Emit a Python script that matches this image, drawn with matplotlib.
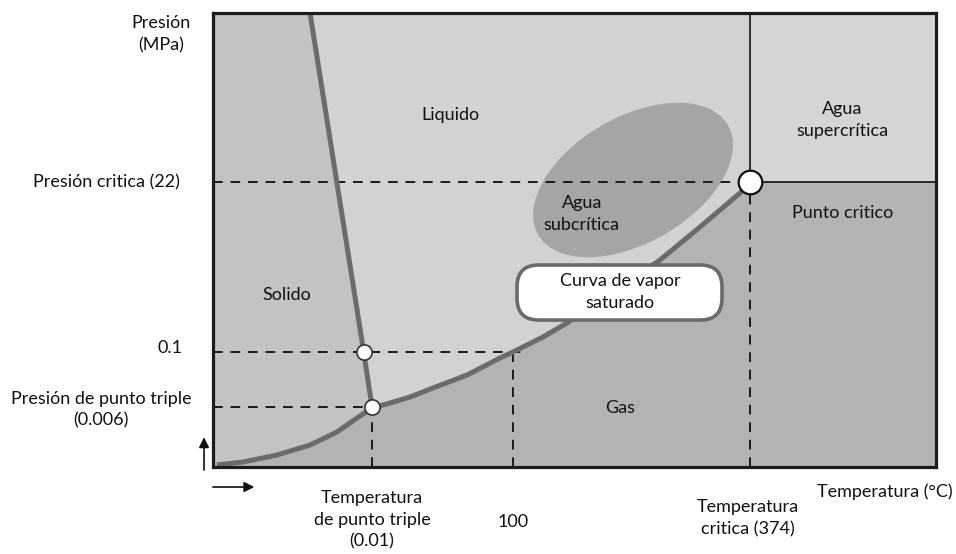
import matplotlib
matplotlib.use("Agg")
import matplotlib.pyplot as plt
import numpy as np
from matplotlib.patches import Ellipse, FancyBboxPatch, Polygon, Rectangle

plt.rcParams['font.family'] = ['Lato', 'DejaVu Sans']

# Schematic phase diagram coordinates (arbitrary schematic units)
T_MAX, P_MAX = 100.0, 62.8
T_triple, P_triple = 21.99, 8.3
T_01, P_01 = 20.85, 15.91
T_100 = 41.49
T_crit, P_crit = 74.27, 39.42

# Vapour (saturation) curve
vap_T = [0.55, 4.15, 8.85, 13.42, 17.15, 19.92, 21.99, 24.48, 27.25, 30.43,
         35.13, 39.70, 41.49, 45.64, 48.96, 53.53, 61.83, 67.36, 72.89, 74.27]
vap_P = [0.28, 0.69, 1.66, 3.04, 4.84, 6.78, 8.16, 8.85, 9.68, 10.93,
         12.72, 15.08, 15.91, 17.98, 19.92, 23.10, 28.63, 33.20, 37.90, 39.42]
TRIPLE_IDX = 6
# Melting curve (top to triple point)
melt_T = [13.42, 20.85, 21.99]
melt_P = [62.8, 15.91, 8.30]

# Subcritical ellipse
ell_center = (58.1, 39.7)
ell_w, ell_h, ell_ang = 30.3, 17.4, 30

C_GAS = '#b3b3b3'
C_LIQ = '#d2d2d2'
C_SOL = '#c3c3c3'
C_SUP = '#d5d5d5'
C_ELL = '#a5a5a5'
C_CURVE = '#6b6b6b'

fig = plt.figure(figsize=(9.56, 5.54), dpi=100)
ax = fig.add_axes([213/956, 87/554, 723/956, 454/554])
ax.set_xlim(0, T_MAX)
ax.set_ylim(0, P_MAX)
ax.set_facecolor(C_GAS)
ax.set_xticks([]); ax.set_yticks([])
for s in ax.spines.values():
    s.set_linewidth(2.3)
    s.set_color('#1c1c1c')
    s.set_zorder(10)

# liquid region (above vapour curve, left of critical temperature)
liq = list(zip(vap_T, vap_P)) + [(T_crit, P_MAX), (0, P_MAX), (0, vap_P[0])]
ax.add_patch(Polygon(liq, closed=True, facecolor=C_LIQ, edgecolor='none', zorder=1))
# solid region
sol = (list(zip(vap_T[:TRIPLE_IDX + 1], vap_P[:TRIPLE_IDX + 1]))
       + list(zip(melt_T[::-1], melt_P[::-1])) + [(0, P_MAX), (0, vap_P[0])])
ax.add_patch(Polygon(sol, closed=True, facecolor=C_SOL, edgecolor='none', zorder=1.1))
# supercritical region
ax.add_patch(Rectangle((T_crit, P_crit), T_MAX - T_crit, P_MAX - P_crit,
                       facecolor=C_SUP, edgecolor='none', zorder=1))
# subcritical ellipse
ax.add_patch(Ellipse(ell_center, ell_w, ell_h, angle=ell_ang, facecolor=C_ELL,
                     edgecolor='none', zorder=2))

# dashed guide lines
dkw = dict(color='#1a1a1a', lw=1.4, dashes=(5, 4), zorder=3)
ax.plot([0, T_crit], [P_crit, P_crit], **dkw)
ax.plot([0, 43.0], [P_01, P_01], **dkw)
ax.plot([0, T_triple], [P_triple, P_triple], **dkw)
ax.plot([T_triple, T_triple], [0, P_triple], **dkw)
ax.plot([T_100, T_100], [0, P_01], **dkw)
ax.plot([T_crit, T_crit], [0, P_crit], **dkw)

# solid boundaries of supercritical region
ax.plot([T_crit, T_crit], [P_crit, P_MAX], color='#111111', lw=1.2, zorder=3)
ax.plot([T_crit, T_MAX], [P_crit, P_crit], color='#111111', lw=1.2, zorder=3)

# phase curves
ax.plot(vap_T, vap_P, color=C_CURVE, lw=3.6, solid_capstyle='butt',
        solid_joinstyle='round', zorder=4)
ax.plot(melt_T, melt_P, color=C_CURVE, lw=3.6, solid_capstyle='butt',
        solid_joinstyle='round', zorder=4)

# points
ax.plot([T_triple, T_01], [P_triple, P_01], 'o', ms=11, mfc='white', mec='#333333',
        mew=1.2, zorder=6)
ax.plot([T_crit], [P_crit], 'o', ms=17, mfc='white', mec='#111111', mew=1.6, zorder=6)

# label box
ax.add_patch(FancyBboxPatch((42.65, 20.93), 27.15, 6.41,
                            boxstyle='round,pad=0.6,rounding_size=3.0',
                            facecolor='white', edgecolor='#6a6a6a', lw=2.6, zorder=7))

fs = 13
LS = 1.45
tk = dict(fontsize=fs, color='#111111', ha='center', va='center', zorder=8)
ax.text(56.3, 24.2, 'Curva de vapor\nsaturado', linespacing=LS, **tk)
ax.text(32.8, 48.7, 'Liquido', **tk)
ax.text(87.0, 48.0, 'Agua\nsupercrítica', linespacing=LS, **tk)
ax.text(51.0, 35.0, 'Agua\nsubcrítica', linespacing=LS, **tk)
ax.text(87.1, 35.1, 'Punto critico', **tk)
ax.text(10.2, 23.8, 'Solido', **tk)
ax.text(56.3, 8.2, 'Gas', **tk)

ok = dict(fontsize=fs, color='#111111', va='center', clip_on=False)
ax.text(-7.2, 59.9, 'Presión\n(MPa)', ha='center', linespacing=LS, **ok)
ax.text(-4.56, P_crit, 'Presión critica (22)', ha='right', **ok)
ax.text(-4.15, P_01 + 0.5, '0.1', ha='right', **ok)
ax.text(-15.5, 7.9, 'Presión de punto triple\n(0.006)', ha='center', linespacing=LS, **ok)
ax.text(T_triple, -7.33, 'Temperatura\nde punto triple\n(0.01)', ha='center', linespacing=LS, **ok)
ax.text(T_100, -7.6, '100', ha='center', **ok)
ax.text(74.0, -7.05, 'Temperatura\ncritica (374)', ha='center', linespacing=LS, **ok)
ax.text(83.5, -3.46, 'Temperatura (°C)', ha='left', **ok)

# axis arrows
ax.annotate('', xy=(-1.24, 4.5), xytext=(-1.24, -0.8), annotation_clip=False,
            arrowprops=dict(arrowstyle='-|>', color='#111111', lw=1.2, mutation_scale=15))
ax.annotate('', xy=(6.1, -2.77), xytext=(-0.4, -2.77), annotation_clip=False,
            arrowprops=dict(arrowstyle='-|>', color='#111111', lw=1.2, mutation_scale=15))

fig.savefig('out.png', dpi=100)
